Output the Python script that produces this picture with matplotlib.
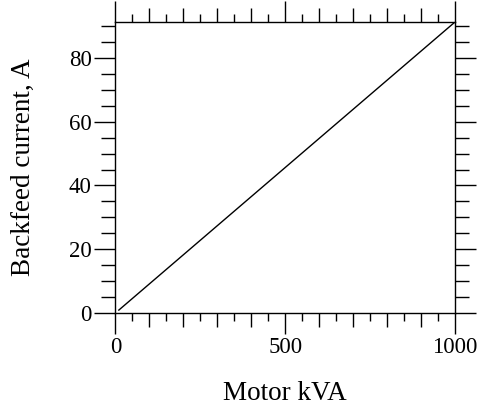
import matplotlib
matplotlib.use("Agg")
import matplotlib.pyplot as plt
import numpy as np
from matplotlib.ticker import MultipleLocator, FixedLocator

plt.rcParams['font.family'] = ['Liberation Serif', 'DejaVu Serif']

# backfeed current vs motor size
motor_kva = np.array([10, 1000])
backfeed_a = np.array([0.91, 91.3])

xticks = [0, 100, 200, 300, 400, 500, 600, 700, 800, 900, 1000]
xlabeled = [0, 500, 1000]
yticks = [0, 20, 40, 60, 80]

fig = plt.figure(figsize=(4.81, 4.07), dpi=100)
ax = fig.add_axes([0.240, 0.231, 0.706, 0.715])

ax.plot(motor_kva, backfeed_a, color='black', linewidth=1.0)

ax.set_xlim(0, 1000)
ax.set_ylim(0, 91.3)

ax.xaxis.set_major_locator(FixedLocator(xticks))
ax.xaxis.set_minor_locator(MultipleLocator(50))
ax.set_xticklabels([str(v) if v in xlabeled else '' for v in xticks])
ax.yaxis.set_major_locator(FixedLocator(yticks))
ax.yaxis.set_minor_locator(MultipleLocator(5))

ax.tick_params(which='both', direction='out', top=True, right=True,
               labelsize=16.5, width=1.0, color='black')
ax.tick_params(axis='x', which='major', length=10, pad=7)
ax.tick_params(axis='x', which='minor', length=6)
ax.tick_params(axis='y', which='major', length=15, pad=2)
ax.tick_params(axis='y', which='minor', length=10)

# make the labelled x ticks longer
for t, v in zip(ax.xaxis.get_major_ticks(), xticks):
    if v in xlabeled:
        t.tick1line.set_markersize(15)
        t.tick2line.set_markersize(15)

for s in ax.spines.values():
    s.set_linewidth(1.0)

ax.set_xlabel('Motor kVA', fontsize=19.5, labelpad=17)
ax.set_ylabel('Backfeed current, A', fontsize=19.5, labelpad=24)

fig.savefig('out.png', dpi=100)
